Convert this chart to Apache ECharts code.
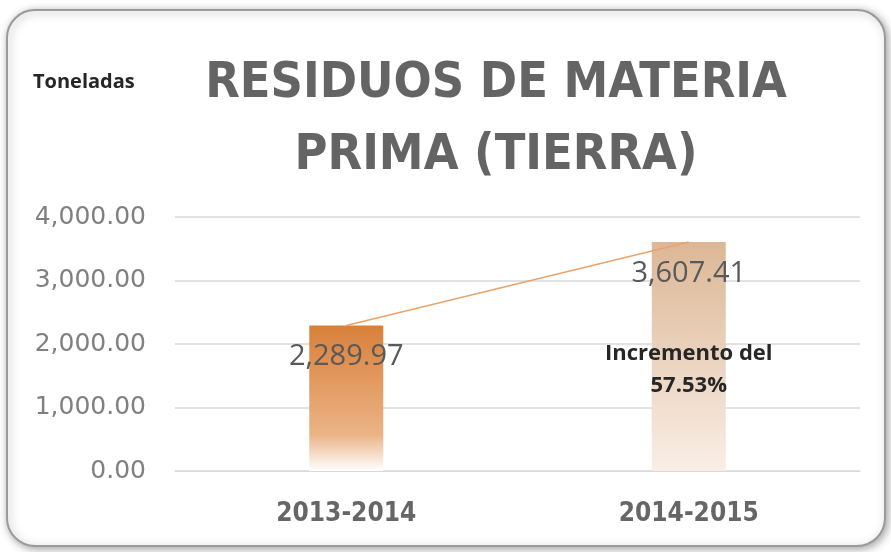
<!DOCTYPE html>
<html>
<head>
<meta charset="utf-8">
<script src="https://cdn.jsdelivr.net/npm/echarts@6/dist/echarts.min.js"></script>
<style>
  html, body { margin: 0; padding: 0; background: #ffffff; }
  #chart { width: 891px; height: 552px; }
</style>
</head>
<body>
<div id="chart"></div>
<script>
// datos
var periodos = ['2013-2014', '2014-2015']
var toneladas = [2289.97, 3607.41]
var incremento = 57.53
var yMax = 4000
var yPaso = 1000

var narrow = '"DejaVu Sans Condensed", "Open Sans", sans-serif'

function fmt (v) {
    return v.toLocaleString('en-US', {minimumFractionDigits: 2, maximumFractionDigits: 2})
}

var chart = echarts.init(document.getElementById('chart'))

var barColors = [
    new echarts.graphic.LinearGradient(0, 0, 0, 1, [
        {offset: 0, color: '#d8803a'},
        {offset: 0.75, color: '#ebb385'},
        {offset: 1, color: '#ffffff'}
    ]),
    new echarts.graphic.LinearGradient(0, 0, 0, 1, [
        {offset: 0, color: '#dcb796'},
        {offset: 1, color: '#f9eee6'}
    ])
]

chart.setOption({
    backgroundColor: '#ffffff',
    animation: false,
    graphic: [
        {
            type: 'rect',
            left: 6,
            top: 9,
            shape: {width: 878, height: 536, r: 28},
            style: {
                fill: '#ffffff',
                stroke: '#9a9a9a',
                lineWidth: 2,
                shadowBlur: 8,
                shadowColor: 'rgba(0,0,0,0.35)',
                shadowOffsetX: 2,
                shadowOffsetY: 2
            },
            z: -10
        },
        {
            type: 'text',
            left: 33,
            top: 72,
            style: {
                text: 'Toneladas',
                font: 'bold 20px "Open Sans", sans-serif',
                fill: '#262626'
            }
        }
    ],
    title: {
        text: 'RESIDUOS DE MATERIA\nPRIMA (TIERRA)',
        left: 491,
        top: 43,
        textAlign: 'center',
        textStyle: {
            fontFamily: narrow,
            fontSize: 50,
            fontWeight: 'bold',
            color: '#646464',
            lineHeight: 72
        }
    },
    grid: {
        left: 175,
        right: 31,
        top: 217,
        bottom: 81
    },
    xAxis: {
        type: 'category',
        data: periodos,
        axisTick: {show: false},
        axisLine: {lineStyle: {color: '#d9d9d9'}},
        axisLabel: {
            margin: 30,
            fontFamily: narrow,
            fontSize: 26,
            fontWeight: 'bold',
            color: '#666666'
        }
    },
    yAxis: {
        type: 'value',
        min: 0,
        max: yMax,
        interval: yPaso,
        axisLine: {show: false},
        axisTick: {show: false},
        splitLine: {lineStyle: {color: '#d9d9d9', width: 1.5}},
        axisLabel: {
            margin: 29,
            fontFamily: '"DejaVu Sans", sans-serif',
            fontSize: 25,
            color: '#808080',
            formatter: function (v) { return fmt(v) }
        }
    },
    series: [
        {
            type: 'bar',
            barWidth: 74,
            data: toneladas.map(function (v, i) {
                return {value: v, itemStyle: {color: barColors[i]}}
            }),
            label: {
                show: true,
                position: 'insideTop',
                distance: 17,
                fontFamily: '"Open Sans", sans-serif',
                fontSize: 29,
                color: '#595959',
                formatter: function (p) { return fmt(p.value) }
            },
            markPoint: {
                symbol: 'rect',
                symbolSize: 1,
                itemStyle: {color: 'rgba(0,0,0,0)'},
                data: [{
                    coord: [periodos[1], 1600],
                    label: {
                        show: true,
                        position: 'inside',
                        formatter: 'Incremento del\n' + incremento.toFixed(2) + '%',
                        fontFamily: '"Open Sans", sans-serif',
                        fontWeight: 'bold',
                        fontSize: 22,
                        lineHeight: 32,
                        color: '#262626'
                    }
                }]
            }
        },
        {
            type: 'line',
            data: toneladas,
            symbol: 'none',
            lineStyle: {color: '#eba36a', width: 1.5},
            z: 5
        }
    ]
})
</script>
</body>
</html>
